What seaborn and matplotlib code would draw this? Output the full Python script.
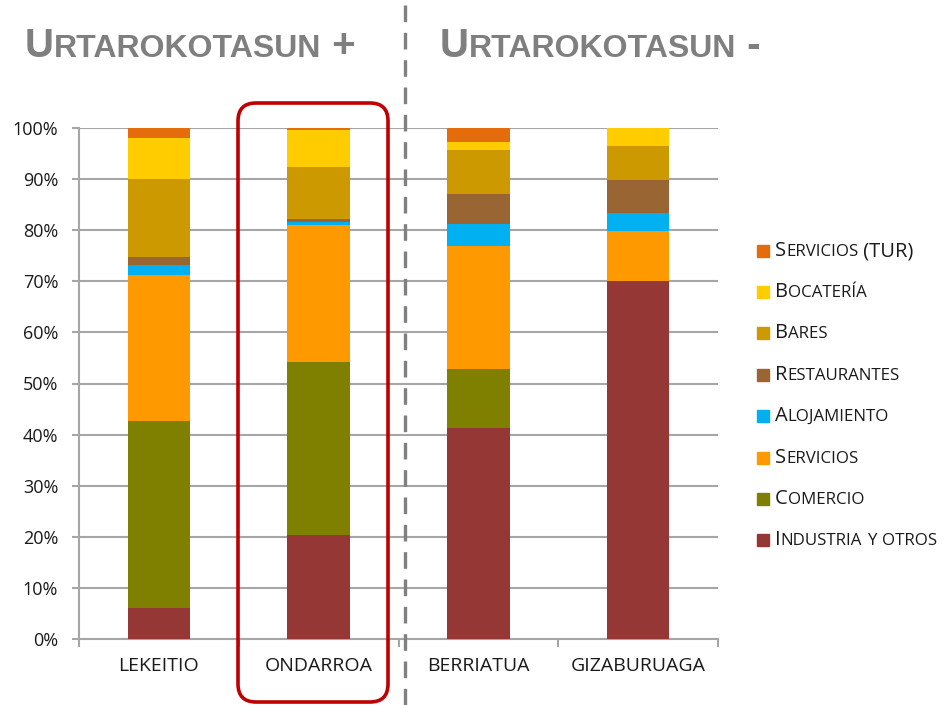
"""
Stacked shares by sector for four towns (Urtarokotasun + / -).
"""

import numpy as np
import matplotlib
matplotlib.use('Agg')
import matplotlib.pyplot as plt
import seaborn as sns
from matplotlib.ticker import PercentFormatter, FixedLocator
from matplotlib.offsetbox import TextArea, HPacker, AnnotationBbox
from matplotlib.patches import FancyBboxPatch, Rectangle
from matplotlib.lines import Line2D

# data (percent of total)
towns = ['LEKEITIO', 'ONDARROA', 'BERRIATUA', 'GIZABURUAGA']
industria = [6.1, 20.4, 41.3, 70.1]
comercio = [36.6, 33.8, 11.5, 0.0]
servicios = [28.5, 26.8, 24.2, 9.8]
alojamiento = [1.9, 0.7, 4.3, 3.4]
restaurantes = [1.6, 0.5, 5.7, 6.6]
bares = [15.3, 10.1, 8.6, 6.6]
bocateria = [8.0, 7.4, 1.6, 3.5]
servicios_tur = [2.0, 0.3, 2.8, 0.0]

# stacking order, bottom to top
series = [
    ('Industria y otros', industria, '#953735'),
    ('Comercio', comercio, '#808000'),
    ('Servicios', servicios, '#ff9900'),
    ('Alojamiento', alojamiento, '#00b0f0'),
    ('Restaurantes', restaurantes, '#996633'),
    ('Bares', bares, '#cc9900'),
    ('Bocatería', bocateria, '#ffcc00'),
    ('Servicios (TUR)', servicios_tur, '#e46c0a'),
]

sns.set_style('white')
plt.rcParams['font.family'] = ['Open Sans', 'DejaVu Sans']

W, H = 944, 705
fig = plt.figure(figsize=(W / 100, H / 100), dpi=100)
ax = fig.add_axes([79 / W, 66 / H, (718 - 79) / W, (639 - 128) / H])

# draw cumulative totals from the top down so each layer covers the one above it
cum = np.cumsum([s[1] for s in series], axis=0)
for (name, vals, color), top in reversed(list(zip(series, cum))):
    sns.barplot(x=towns, y=top, order=towns, color=color, saturation=1,
                width=0.39, ax=ax, zorder=3, linewidth=0, edgecolor='none')

grid_col = '#a6a6a6'
ax.set_ylim(0, 100)
ax.set_xlim(-0.5, 3.5)
ax.set_yticks(np.arange(0, 101, 10))
ax.yaxis.set_major_formatter(PercentFormatter(decimals=0))
ax.yaxis.grid(True, color=grid_col, lw=1.5)
ax.set_axisbelow(True)
ax.set_xlabel('')
ax.set_ylabel('')
for side in ['top', 'right']:
    ax.spines[side].set_visible(False)
for side in ['left', 'bottom']:
    ax.spines[side].set_color(grid_col)
    ax.spines[side].set_linewidth(1.5)
ax.tick_params(axis='y', length=5, width=1.5, color=grid_col, pad=10,
               labelsize=13, labelcolor='#1a1a1a', left=True)
ax.tick_params(axis='x', which='major', length=0, pad=13, labelsize=14,
               labelcolor='#1a1a1a')
ax.xaxis.set_minor_locator(FixedLocator([-0.5, 0.5, 1.5, 2.5, 3.5]))
ax.tick_params(axis='x', which='minor', length=6, width=1.5, color=grid_col,
               bottom=True)


def small_caps(x, y, text, big, small, color, family, weight='normal'):
    """Fake small caps: capitals at `big`, lower-case letters upper-cased at `small`"""
    runs = []
    for ch in text:
        is_big = not ch.islower()
        if runs and runs[-1][1] == is_big:
            runs[-1][0] += ch
        else:
            runs.append([ch, is_big])
    kids = [TextArea(s if b else s.upper(),
                     textprops=dict(size=big if b else small, color=color,
                                    family=family, weight=weight))
            for s, b in runs]
    box = HPacker(children=kids, align='baseline', pad=0, sep=0)
    ab = AnnotationBbox(box, (x, y), xycoords='figure pixels',
                        box_alignment=(0, 0.5), frameon=False, pad=0)
    fig.add_artist(ab)


# headings
head_font = ['Liberation Sans', 'DejaVu Sans']
small_caps(25, H - 46, 'Urtarokotasun +', 29, 23, '#7f7f7f', head_font, 'bold')
small_caps(440, H - 46, 'Urtarokotasun -', 29, 23, '#7f7f7f', head_font, 'bold')

# legend, top entry first
leg_y = [251, 292, 333, 375, 416, 458, 499, 540]
for (name, vals, color), y in zip(reversed(series), leg_y):
    fig.add_artist(Rectangle((757 / W, (H - y - 6) / H), 12 / W, 12 / H,
                             transform=fig.transFigure, color=color))
    small_caps(775, H - y, name, 14.5, 12.2, '#1a1a1a', ['Open Sans', 'DejaVu Sans'])

# dashed separator between the two groups
sep = Line2D([405 / W, 405 / W], [0, 1], transform=fig.transFigure,
             color='#808080', lw=2.4, dashes=(5, 3.2))
fig.add_artist(sep)

# red rounded frame around Ondarroa (display pixels, dpi 100)
frame = FancyBboxPatch((238, 3), 150, 599,
                       boxstyle='round,pad=0,rounding_size=18',
                       transform=None, fill=False,
                       edgecolor='#c00000', lw=2.6)
fig.add_artist(frame)

fig.savefig('out.png', dpi=100)
